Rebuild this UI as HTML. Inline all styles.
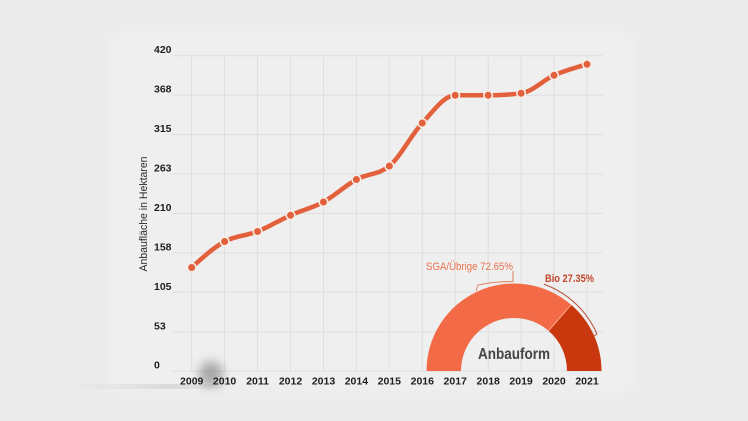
<!DOCTYPE html>
<html>
<head>
<meta charset="utf-8">
<style>
  html, body { margin:0; padding:0; }
  body { width:748px; height:421px; background:#ebebeb; overflow:hidden; }
  svg { display:block; }
  text { font-family:"Liberation Sans", sans-serif; }
</style>
</head>
<body>
<svg width="748" height="421" viewBox="0 0 748 421" xmlns="http://www.w3.org/2000/svg">
  <defs>
    <filter id="blur8" x="-20%" y="-20%" width="140%" height="140%"><feGaussianBlur stdDeviation="6"/></filter>
    <filter id="blur4" x="-50%" y="-50%" width="200%" height="200%"><feGaussianBlur stdDeviation="5"/></filter>
    <linearGradient id="band" x1="0" x2="1" y1="0" y2="0">
      <stop offset="0" stop-color="#aaa" stop-opacity="0"/>
      <stop offset="0.6" stop-color="#999" stop-opacity="0.25"/>
      <stop offset="1" stop-color="#aaa" stop-opacity="0"/>
    </linearGradient>
  </defs>

  <rect x="0" y="0" width="748" height="421" fill="#ebebeb"/>
  <rect x="107" y="33" width="530" height="358" fill="#f0efef" filter="url(#blur8)"/>

  <!-- gridlines -->
  <g stroke="#dfdfdf" stroke-width="1">
    <line x1="172" x2="603" y1="55.7" y2="55.7"/>
    <line x1="172" x2="603" y1="95.2" y2="95.2"/>
    <line x1="172" x2="603" y1="134.6" y2="134.6"/>
    <line x1="172" x2="603" y1="174" y2="174"/>
    <line x1="172" x2="603" y1="213.5" y2="213.5"/>
    <line x1="172" x2="603" y1="252.9" y2="252.9"/>
    <line x1="172" x2="603" y1="292.3" y2="292.3"/>
    <line x1="172" x2="603" y1="331.8" y2="331.8"/>
    <line x1="172" x2="603" y1="371.2" y2="371.2"/>
    <line x1="191.7" x2="191.7" y1="55.7" y2="371.2"/>
    <line x1="224.6" x2="224.6" y1="55.7" y2="371.2"/>
    <line x1="257.6" x2="257.6" y1="55.7" y2="371.2"/>
    <line x1="290.5" x2="290.5" y1="55.7" y2="371.2"/>
    <line x1="323.5" x2="323.5" y1="55.7" y2="371.2"/>
    <line x1="356.4" x2="356.4" y1="55.7" y2="371.2"/>
    <line x1="389.3" x2="389.3" y1="55.7" y2="371.2"/>
    <line x1="422.3" x2="422.3" y1="55.7" y2="371.2"/>
    <line x1="455.2" x2="455.2" y1="55.7" y2="371.2"/>
    <line x1="488.2" x2="488.2" y1="55.7" y2="371.2"/>
    <line x1="521.1" x2="521.1" y1="55.7" y2="371.2"/>
    <line x1="554" x2="554" y1="55.7" y2="371.2"/>
    <line x1="587" x2="587" y1="55.7" y2="371.2"/>
  </g>

  <!-- smudge near bottom-left -->
  <rect x="70" y="384" width="170" height="5" fill="url(#band)"/>
  <ellipse cx="211" cy="374" rx="12" ry="13" fill="#555" opacity="0.45" filter="url(#blur4)"/>

  <!-- y labels -->
  <g font-size="10.5" font-weight="bold" fill="#1e1e1e">
    <text x="154" y="53.2">420</text>
    <text x="154" y="92.7">368</text>
    <text x="154" y="132.1">315</text>
    <text x="154" y="171.5">263</text>
    <text x="154" y="211">210</text>
    <text x="154" y="250.4">158</text>
    <text x="154" y="289.8">105</text>
    <text x="154" y="329.3">53</text>
    <text x="154" y="368.7">0</text>
  </g>

  <!-- y title -->
  <text transform="translate(147,214) rotate(-90)" text-anchor="middle" font-size="11" fill="#2a2a2a" textLength="115" lengthAdjust="spacingAndGlyphs">Anbaufläche in Hektaren</text>

  <!-- x labels -->
  <g font-size="10.5" font-weight="bold" fill="#1e1e1e" text-anchor="middle">
    <text x="191.7" y="384.5">2009</text>
    <text x="224.6" y="384.5">2010</text>
    <text x="257.6" y="384.5">2011</text>
    <text x="290.5" y="384.5">2012</text>
    <text x="323.5" y="384.5">2013</text>
    <text x="356.4" y="384.5">2014</text>
    <text x="389.3" y="384.5">2015</text>
    <text x="422.3" y="384.5">2016</text>
    <text x="455.2" y="384.5">2017</text>
    <text x="488.2" y="384.5">2018</text>
    <text x="521.1" y="384.5">2019</text>
    <text x="554" y="384.5">2020</text>
    <text x="587" y="384.5">2021</text>
  </g>

  <!-- line -->
  <path fill="none" stroke="#e2603b" stroke-width="4.5" stroke-linecap="round"
    d="M191.7,267.5 C202.68,257.5 213.66,247.5 224.64,241.5
       C235.62,235.5 246.6,235.87 257.58,231.5
       C268.56,227.13 279.54,220.22 290.52,215.3
       C301.5,210.38 312.48,207.97 323.46,202
       C334.44,196.03 345.42,185.5 356.4,179.5
       C367.38,173.5 378.36,175 389.34,166
       C400.32,157 411.3,134.78 422.28,123
       C433.26,111.22 444.24,95.3 455.22,95.3
       C466.2,95.3 477.18,95.3 488.16,95.3
       C499.14,95.3 510.12,94.63 521.1,93.3
       C532.08,91.97 543.06,80.13 554.04,75.3
       C565.02,70.47 576,67.38 587,64.3"/>
  <g fill="#e2603b" stroke="#f7eee8" stroke-width="1.6">
    <circle cx="191.7" cy="267.5" r="4.3"/>
    <circle cx="224.64" cy="241.5" r="4.3"/>
    <circle cx="257.58" cy="231.5" r="4.3"/>
    <circle cx="290.52" cy="215.3" r="4.3"/>
    <circle cx="323.46" cy="202" r="4.3"/>
    <circle cx="356.4" cy="179.5" r="4.3"/>
    <circle cx="389.34" cy="166" r="4.3"/>
    <circle cx="422.28" cy="123" r="4.3"/>
    <circle cx="455.22" cy="95.3" r="4.3"/>
    <circle cx="488.16" cy="95.3" r="4.3"/>
    <circle cx="521.1" cy="93.3" r="4.3"/>
    <circle cx="554.04" cy="75.3" r="4.3"/>
    <circle cx="587" cy="64.3" r="4.3"/>
  </g>

  <!-- gauge -->
  <path fill="#f36a47" d="M426.5,371 A87.5,87.5 0 0 1 571.14,304.73 L548.61,330.86 A53,53 0 0 0 461,371 Z"/>
  <path fill="#c9370f" d="M571.14,304.73 A87.5,87.5 0 0 1 601.5,371 L567,371 A53,53 0 0 0 548.61,330.86 Z"/>
  <line x1="548.61" y1="330.86" x2="571.14" y2="304.73" stroke="#f9a88c" stroke-width="1"/>

  <!-- brackets -->
  <path fill="none" stroke="#e0805f" stroke-width="1" d="M476,291 L478,285 Q495,281.5 513,281.5 L513,271"/>
  <path fill="none" stroke="#b5503a" stroke-width="1" d="M544,284 L546,285 A92,92 0 0 1 597,334 L594,336"/>

  <!-- gauge labels -->
  <text x="426" y="270" font-size="11" fill="#e8714f" textLength="87" lengthAdjust="spacingAndGlyphs">SGA/Übrige 72.65%</text>
  <text x="545" y="282" font-size="11" font-weight="bold" fill="#c2452a" textLength="49" lengthAdjust="spacingAndGlyphs">Bio 27.35%</text>
  <text x="514" y="359" text-anchor="middle" font-size="16" font-weight="bold" fill="#444" textLength="72" lengthAdjust="spacingAndGlyphs">Anbauform</text>
</svg>
</body>
</html>
